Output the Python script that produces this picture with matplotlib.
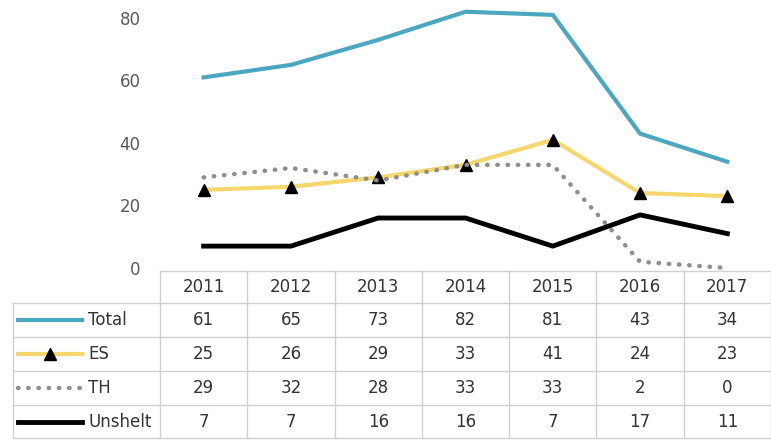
import matplotlib.pyplot as plt
from matplotlib.lines import Line2D
import numpy as np

years = ["2011", "2012", "2013", "2014", "2015", "2016", "2017"]
total = [61, 65, 73, 82, 81, 43, 34]
es = [25, 26, 29, 33, 41, 24, 23]
th = [29, 32, 28, 33, 33, 2, 0]
unshelt = [7, 7, 16, 16, 7, 17, 11]

names = ["Total", "ES", "TH", "Unshelt"]
values = [total, es, th, unshelt]
styles = [
    dict(color="#4AA7BF", lw=3),
    dict(color="#F5D76E", lw=3, marker="^", markersize=8,
         markerfacecolor="black", markeredgecolor="black"),
    dict(color="#8E8E8E", lw=3.2, linestyle=(0, (0.1, 2.2)),
         dash_capstyle="round"),
    dict(color="black", lw=3.5),
]

W, H = 771, 440
fig = plt.figure(figsize=(W / 100, H / 100), dpi=100)

# main chart area
left, right = 160, 771
ax = fig.add_axes([left / W, (H - 268) / H, (right - left) / W, 250 / H])
x = np.arange(len(years))
for vals, st in zip(values, styles):
    ax.plot(x, vals, clip_on=False, **st)
ax.set_xlim(-0.5, len(years) - 0.5)
ax.set_ylim(0, 80)
ax.set_yticks([0, 20, 40, 60, 80])
ax.set_xticks([])
ax.tick_params(axis="y", length=0, pad=14, labelsize=12, labelcolor="#595959")
for s in ax.spines.values():
    s.set_visible(False)

# data table under the chart, in pixel units measured from its top edge
top = 271
tab = fig.add_axes([left / W, 0, (right - left) / W, (H - top) / H])
tab.set_xlim(-0.5, len(years) - 0.5)
tab.set_ylim(H - top, 0)
tab.axis("off")

colw = (right - left) / len(years)


def px(p):
    # figure pixel x -> table data x
    return -0.5 - (left - p) / colw


row_edges = [0, 32, 66, 100, 134, 167]
grid = "#D0D0D0"
kw = dict(color=grid, lw=1, clip_on=False)

tab.plot([-0.5, len(years) - 0.5], [0, 0], **kw)
for yb in row_edges[1:]:
    tab.plot([px(13), len(years) - 0.5], [yb, yb], **kw)
for i in range(len(years) + 1):
    tab.plot([i - 0.5, i - 0.5], [0, row_edges[-1]], **kw)
tab.plot([px(13), px(13)], [row_edges[1], row_edges[-1]], **kw)

txt = dict(ha="center", va="center", fontsize=12, color="#333333")
for i, yr in enumerate(years):
    tab.text(i, (row_edges[0] + row_edges[1]) / 2, yr, **txt)

for r, (name, vals, st) in enumerate(zip(names, values, styles)):
    yc = (row_edges[r + 1] + row_edges[r + 2]) / 2
    key = dict(st)
    key.pop("marker", None)
    tab.add_line(Line2D([px(18), px(82)], [yc, yc], clip_on=False, **key))
    if "marker" in st:
        tab.plot([px(50)], [yc], "^", color="black", markersize=8, clip_on=False)
    tab.text(px(88), yc, name, ha="left", va="center", fontsize=12, color="#333333")
    for i, v in enumerate(vals):
        tab.text(i, yc, str(v), **txt)

fig.savefig("out.png", dpi=100)
